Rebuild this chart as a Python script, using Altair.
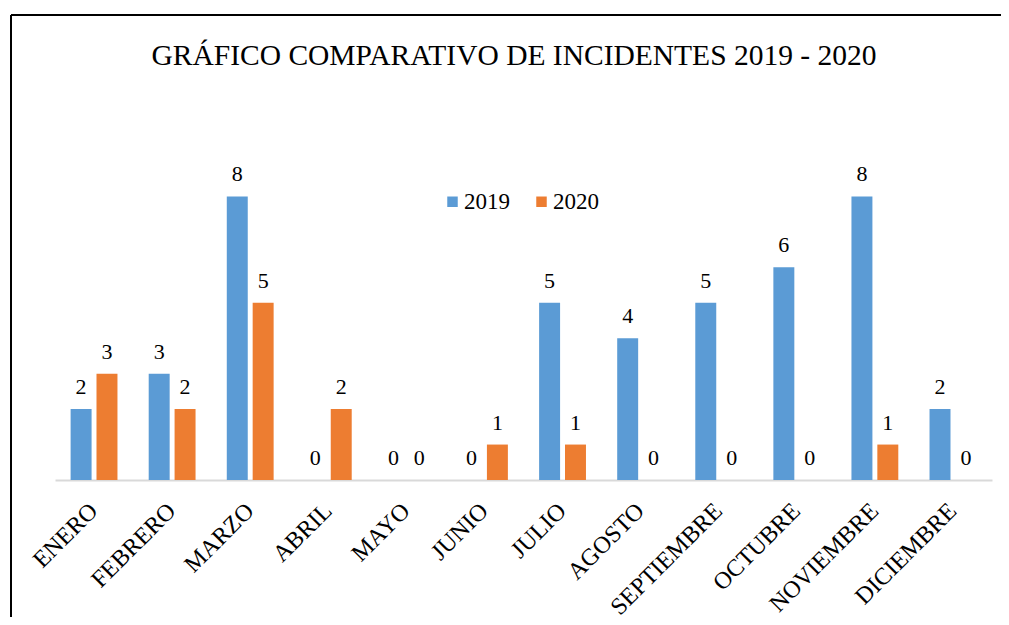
import altair as alt
import pandas as pd

months = ["ENERO", "FEBRERO", "MARZO", "ABRIL", "MAYO", "JUNIO", "JULIO",
          "AGOSTO", "SEPTIEMBRE", "OCTUBRE", "NOVIEMBRE", "DICIEMBRE"]
years = ["2019", "2020"]
incidents_2019 = [2, 3, 8, 0, 0, 0, 5, 4, 5, 6, 8, 2]
incidents_2020 = [3, 2, 5, 2, 0, 1, 1, 0, 0, 0, 1, 0]
colors = ["#5B9BD5", "#ED7D31"]
title_text = "GRÁFICO COMPARATIVO DE INCIDENTES 2019 - 2020"

rows = []
for m, a, b in zip(months, incidents_2019, incidents_2020):
    rows.append({"mes": m, "anio": "2019", "valor": a})
    rows.append({"mes": m, "anio": "2020", "valor": b})
df = pd.DataFrame(rows)

FONT = "Liberation Serif"

x = alt.X("mes:N", sort=months,
          scale=alt.Scale(paddingInner=0.4, paddingOuter=0.2),
          axis=alt.Axis(title=None, labelAngle=-45, labelFont=FONT, labelFontSize=24,
                        labelColor="black", ticks=False, domainColor="#D9D9D9",
                        domainWidth=2, labelPadding=27, labelAlign="right",
                        labelBaseline="middle"))
xo = alt.XOffset("anio:N", sort=years, scale=alt.Scale(paddingInner=0.19, paddingOuter=0))
y = alt.Y("valor:Q", scale=alt.Scale(domain=[0, 9], nice=False), axis=None)
color = alt.Color("anio:N", sort=years,
                  scale=alt.Scale(domain=years, range=colors),
                  legend=alt.Legend(title=None, orient="none", legendX=386, legendY=29,
                                    direction="horizontal", symbolType="square",
                                    symbolSize=110, symbolStrokeWidth=0,
                                    labelFont=FONT, labelFontSize=23, labelColor="black",
                                    labelOffset=0, columnPadding=20, padding=0))

base = alt.Chart(df)
bars = base.mark_bar().encode(x=x, xOffset=xo, y=y, color=color)
labels = base.mark_text(font=FONT, fontSize=22, color="black", baseline="alphabetic",
                        dy=-15).encode(x=x, xOffset=xo, y=y, text="valor:Q")

frame = alt.Chart(pd.DataFrame({"k": [0]}))
top_rule = frame.mark_rule(color="black", strokeWidth=2).encode(
    x=alt.value(-44), x2=alt.value(960), y=alt.value(-146))
left_rule = frame.mark_rule(color="black", strokeWidth=2).encode(
    x=alt.value(-44), y=alt.value(-146), y2=alt.value(470))
title = frame.mark_text(font=FONT, fontSize=29.5, color="black", baseline="alphabetic",
                        align="center").encode(
    x=alt.value(459), y=alt.value(-96.5), text=alt.value(title_text))

chart = alt.layer(top_rule, left_rule, title, bars, labels).properties(
    width=937, height=319,
    padding={"left": 47, "top": 153, "right": 9, "bottom": 137},
    autosize=alt.AutoSizeParams(type="none"),
).configure_view(stroke=None)

chart.save("out.html", embed_options={"renderer": "svg", "actions": False})
